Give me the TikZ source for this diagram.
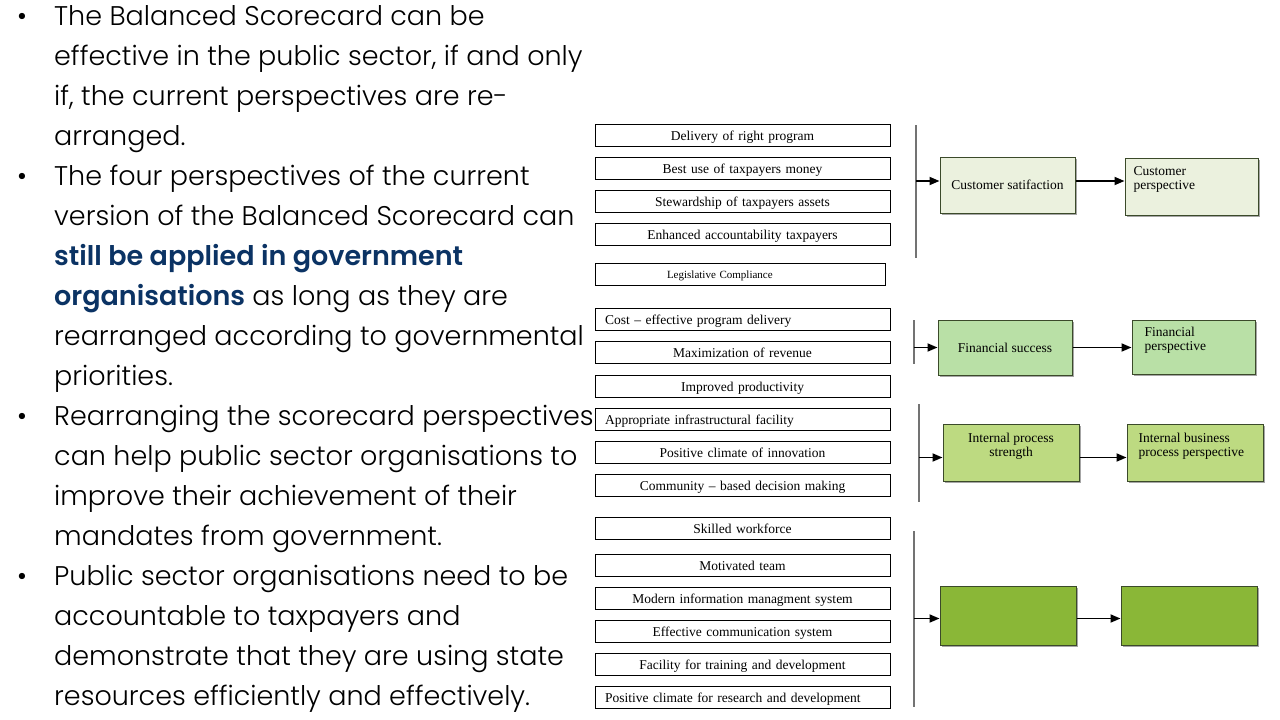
\documentclass[tikz,border=0pt]{standalone}
\usepackage{fontspec}
\setmainfont{Poppins}[UprightFont=* Light, BoldFont=* SemiBold]
\newfontfamily\tnr{Liberation Serif}
\usetikzlibrary{arrows.meta,shadows}
\definecolor{navy}{HTML}{0B3364}
\definecolor{paleg}{HTML}{EBF1DE}
\definecolor{softg}{HTML}{B9E0A6}
\definecolor{midg}{HTML}{BDDA81}
\definecolor{deepg}{HTML}{8AB737}
\definecolor{edgeg}{HTML}{3B4A2A}
\newcommand{\govbold}[1]{\textcolor{navy}{\bfseries #1}}
\tikzset{
  bodytext/.style={anchor=base west, inner sep=0pt, font=\fontsize{27}{32}\selectfont},
  itembox/.style={draw, line width=0.8pt, minimum width=295pt, minimum height=22pt,
    text width=275pt, inner xsep=10pt, inner ysep=0pt, text height=12pt, text depth=1pt,
    font=\tnr\fontsize{13.5}{14}\selectfont},
  greenbox/.style={draw=edgeg, line width=1pt,
    drop shadow={shadow xshift=2pt, shadow yshift=-2pt, fill=gray!70, opacity=1}},
  boxtext/.style={font=\tnr\fontsize{13.5}{14}\selectfont, inner sep=0pt},
  divider/.style={draw=gray!90!black, line width=1.2pt},
  flow/.style={-{Triangle[length=10pt,width=8pt]}, line width=1.8pt},
}
\begin{document}
\begin{tikzpicture}[x=1pt,y=-1pt]
\useasboundingbox[fill=white] (0,0) rectangle (1280,720);
% bullet text on the left
\foreach \t [count=\i] in {{The Balanced Scorecard can be},
  {effective in the public sector, if and only},
  {if, the current perspectives are re-},
  {arranged.},
  {The four perspectives of the current},
  {version of the Balanced Scorecard can},
  {\govbold{still be applied in government}},
  {\govbold{organisations} as long as they are},
  {rearranged according to governmental},
  {priorities.},
  {Rearranging the scorecard perspectives},
  {can help public sector organisations to},
  {improve their achievement of their},
  {mandates from government.},
  {Public sector organisations need to be},
  {accountable to taxpayers and},
  {demonstrate that they are using state},
  {resources efficiently and effectively.}}
  \node[bodytext] (line\i) at (54,{25+40*(\i-1)}) {\t};
\foreach \i in {1,5,11,15}
  \node[anchor=base, inner sep=0pt, font=\fontsize{27}{32}\selectfont] (dot\i) at ([xshift=-32pt]line\i.base west) {•};
% item boxes
\foreach \n/\y/\a/\t in {d1/135/center/{Delivery of right program},
  d2/168/center/{Best use of taxpayers money},
  d3/201/center/{Stewardship of taxpayers assets},
  d4/234/center/{Enhanced accountability taxpayers},
  f1/319/left/{Cost – effective program delivery},
  f2/352/center/{Maximization of revenue},
  f3/386/center/{Improved productivity},
  p1/419/left/{Appropriate infrastructural facility},
  p2/452/center/{Positive climate of innovation},
  p3/485/center/{Community – based decision making},
  g1/528/center/{Skilled workforce},
  g2/565/center/{Motivated team},
  g3/598/center/{Modern information managment system},
  g4/631/center/{Effective communication system},
  g5/664/center/{Facility for training and development},
  g6/697/left/{Positive climate for research and development}}
  \node[itembox, align=\a] (\n) at (742.5,\y) {\t};
\node[itembox, minimum width=290pt, text width=146pt, inner xsep=72pt, align=left,
  text height=9pt, text depth=1pt, font=\tnr\fontsize{11}{12}\selectfont] (d5) at (740,274) {Legislative Compliance};
% dividers
\coordinate (v1a) at (916,125); \coordinate (v1b) at (916,258);
\coordinate (v2a) at (914,320); \coordinate (v2b) at (914,364);
\coordinate (v3a) at (919,404); \coordinate (v3b) at (919,502);
\coordinate (v4a) at (914,531); \coordinate (v4b) at (914,707);
\foreach \k in {1,2,3,4}
  \draw[divider] (v\k a) -- (v\k b);
% perspective boxes
\node[greenbox, fill=paleg, minimum width=135pt, minimum height=56pt, boxtext] (cs) at (1007.5,185) {Customer satifaction};
\node[greenbox, fill=paleg, minimum width=133pt, minimum height=57pt] (cp) at (1191.5,186.5) {};
\node[greenbox, fill=softg, minimum width=134pt, minimum height=55pt, boxtext] (fs) at (1005,347.5) {Financial success};
\node[greenbox, fill=softg, minimum width=123pt, minimum height=54pt] (fp) at (1193.5,347) {};
\node[greenbox, fill=midg, minimum width=136pt, minimum height=57pt] (ip) at (1011,452.5) {};
\node[greenbox, fill=midg, minimum width=136pt, minimum height=57pt] (bp) at (1195,452.5) {};
\node[greenbox, fill=deepg, minimum width=136pt, minimum height=59pt] (lg) at (1008,615.5) {};
\node[greenbox, fill=deepg, minimum width=136pt, minimum height=59pt] (lp) at (1189,615.5) {};
\node[boxtext, anchor=north west, align=left] (tcp) at ([shift={(9pt,-9pt)}]cp.north west) {Customer\\perspective};
\node[boxtext, anchor=north west, align=left] (tfp) at ([shift={(13pt,-7pt)}]fp.north west) {Financial\\perspective};
\node[boxtext, anchor=north, align=center] (tip) at ([yshift=-9pt]ip.north) {Internal process\\strength};
\node[boxtext, anchor=north west, align=left] (tbp) at ([shift={(12pt,-9pt)}]bp.north west) {Internal business\\process perspective};
% arrows
\coordinate (a1) at ([yshift=4pt]cs.west);
\coordinate (a2) at (fs.west);
\coordinate (a3) at ([yshift=-5pt]ip.west);
\coordinate (a4) at ([yshift=-3pt]lg.west);
\draw[flow] (v1a |- a1) -- (a1);
\draw[flow] (a1 -| cs.east) -- (a1 -| cp.west);
\draw[flow] (v2a |- a2) -- (a2);
\draw[flow] (a2 -| fs.east) -- (a2 -| fp.west);
\draw[flow] (v3a |- a3) -- (a3);
\draw[flow] (a3 -| ip.east) -- (a3 -| bp.west);
\draw[flow] (v4a |- a4) -- (a4);
\draw[flow] (a4 -| lg.east) -- (a4 -| lp.west);
\end{tikzpicture}
\end{document}
